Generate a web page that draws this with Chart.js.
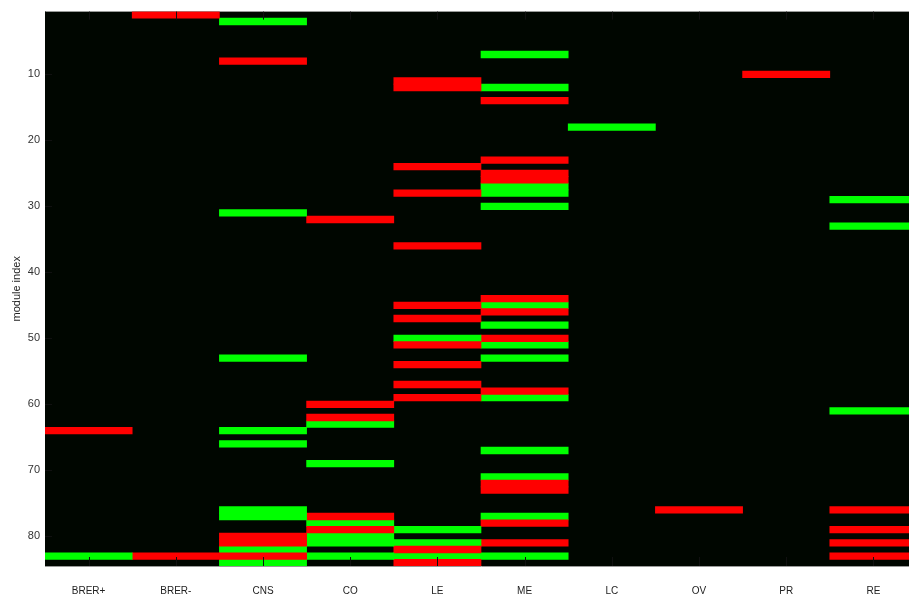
<!DOCTYPE html>
<html>
<head>
<meta charset="utf-8">
<script src="https://cdn.jsdelivr.net/npm/chart.js@4.4.1/dist/chart.umd.min.js"></script>
<style>
  html, body { margin: 0; padding: 0; background: #fff; overflow: hidden; }
  #wrap { width: 918px; height: 596px; }
</style>
</head>
<body>
<div id="wrap"><canvas id="c"></canvas></div>
<script>
// tissues along x, modules (rows) down the y axis
const tissues = ['BRER+', 'BRER-', 'CNS', 'CO', 'LE', 'ME', 'LC', 'OV', 'PR', 'RE'];
const moduleCount = 84;
const rowTicks = [10, 20, 30, 40, 50, 60, 70, 80];

// module indices coloured red, per tissue (same order as tissues)
const redModules = [
  [64],
  [1, 83],
  [8, 80, 81, 83],
  [32, 60, 62, 77, 79],
  [11, 12, 24, 28, 36, 45, 47, 51, 54, 57, 59, 82, 84],
  [14, 23, 25, 26, 44, 46, 50, 58, 72, 73, 78, 81],
  [],
  [76],
  [10],
  [76, 79, 81, 83]
];

// module indices coloured green, per tissue
const greenModules = [
  [83],
  [],
  [2, 31, 53, 64, 66, 76, 77, 82, 84],
  [63, 69, 78, 80, 81, 83],
  [50, 79, 81, 83],
  [7, 12, 27, 28, 30, 45, 48, 51, 53, 59, 67, 71, 77, 83],
  [18],
  [],
  [],
  [29, 33, 61]
];

const rowLabels = [];
for (let k = 1; k <= moduleCount; k++) rowLabels.push(String(k));

function cells(mods, i) {
  return mods.map(m => ({ x: [i - 0.5, i + 0.5], y: String(m) }));
}

let datasets = [];
tissues.forEach((t, i) => {
  datasets.push({ label: t + ' down', data: cells(redModules[i], i), backgroundColor: '#ff0000' });
  datasets.push({ label: t + ' up', data: cells(greenModules[i], i), backgroundColor: '#00ff00' });
});

const FONT = "'Liberation Sans', Arial, sans-serif";

// black plot background
const bgPlugin = {
  id: 'bg',
  beforeDatasetsDraw(chart) {
    const a = chart.chartArea, ctx = chart.ctx;
    ctx.save();
    ctx.fillStyle = '#000600';
    ctx.fillRect(a.left, a.top, a.right - a.left, a.bottom - a.top);
    ctx.restore();
  }
};

// matlab style ticks pointing inwards
const innerTicks = {
  id: 'innerTicks',
  afterDatasetsDraw(chart) {
    const a = chart.chartArea, ctx = chart.ctx;
    const xs = chart.scales.x, ys = chart.scales.y;
    ctx.save();
    ctx.strokeStyle = '#101010';
    ctx.lineWidth = 1;
    ctx.beginPath();
    tissues.forEach((t, i) => {
      const px = Math.round(xs.getPixelForValue(i)) + 0.5;
      ctx.moveTo(px, a.bottom);
      ctx.lineTo(px, a.bottom - 9);
      ctx.moveTo(px, a.top);
      ctx.lineTo(px, a.top + 8);
    });
    rowTicks.forEach(r => {
      const py = Math.round(ys.getPixelForValue(r - 1)) + 0.5;
      ctx.moveTo(a.left, py);
      ctx.lineTo(a.left + 7, py);
    });
    ctx.stroke();
    ctx.restore();
  }
};

new Chart(document.getElementById('c'), {
  type: 'bar',
  data: { labels: rowLabels, datasets: datasets },
  plugins: [bgPlugin, innerTicks],
  options: {
    indexAxis: 'y',
    responsive: true,
    maintainAspectRatio: false,
    animation: false,
    layout: { padding: { top: 11, right: 1, left: 0, bottom: 0 } },
    datasets: {
      bar: { grouped: false, barPercentage: 1, categoryPercentage: 1, borderWidth: 0 }
    },
    plugins: { legend: { display: false }, tooltip: { enabled: false } },
    scales: {
      x: {
        type: 'linear',
        min: -0.5,
        max: 9.5,
        afterBuildTicks(scale) {
          scale.ticks = tissues.map((t, i) => ({ value: i }));
        },
        afterFit(scale) { scale.height = 30; },
        grid: { display: false, drawTicks: false },
        border: { display: true, color: '#9a9a9a' },
        ticks: {
          callback: v => tissues[v],
          padding: 19,
          maxRotation: 0,
          autoSkip: false,
          color: '#222',
          font: { family: FONT, size: 10 }
        }
      },
      y: {
        type: 'category',
        afterFit(scale) { scale.width = 45; },
        grid: { display: false, drawTicks: false },
        border: { display: true, color: '#9a9a9a' },
        title: {
          display: true,
          text: 'module index',
          color: '#222',
          padding: { top: 10, bottom: 0 },
          font: { family: FONT, size: 11 }
        },
        ticks: {
          autoSkip: false,
          padding: 5,
          color: '#333',
          font: { family: FONT, size: 11 },
          callback: (v, idx) => rowTicks.includes(idx + 1) ? String(idx + 1) : ''
        }
      }
    }
  }
});
</script>
</body>
</html>
